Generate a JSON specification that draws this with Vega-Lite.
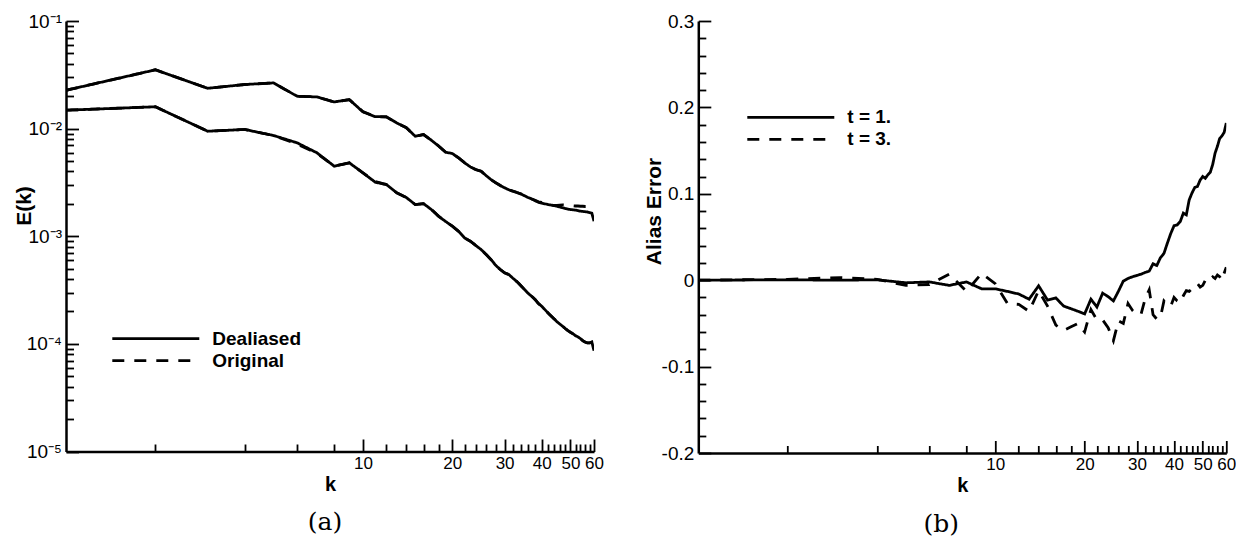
{
  "$schema": "https://vega.github.io/schema/vega-lite/v6.json",
  "background": "white",
  "padding": {"left": 13, "top": 12, "right": 0, "bottom": 0},
  "config": {
    "view": {"stroke": null},
    "font": "Liberation Sans",
    "axis": {
      "domainColor": "black", "domainWidth": 2.5, "tickColor": "black", "tickWidth": 1.8,
      "labelColor": "black", "labelFont": "Liberation Sans", "titleFont": "Liberation Sans",
      "titleFontWeight": "bold", "titleColor": "black", "grid": false,
      "labelOverlap": false, "labelFlush": false, "labelBound": false
    }
  },
  "datasets": {
    "spectra": [
      {"k":1,"c":"u","Dealiased":0.0227,"Original":0.0227},
      {"k":2,"c":"u","Dealiased":0.0352,"Original":0.0352},
      {"k":3,"c":"u","Dealiased":0.0237,"Original":0.0237},
      {"k":4,"c":"u","Dealiased":0.0257,"Original":0.0257},
      {"k":5,"c":"u","Dealiased":0.0266,"Original":0.0266},
      {"k":6,"c":"u","Dealiased":0.0200,"Original":0.0200},
      {"k":7,"c":"u","Dealiased":0.0197,"Original":0.0197},
      {"k":8,"c":"u","Dealiased":0.0177,"Original":0.0177},
      {"k":9,"c":"u","Dealiased":0.0186,"Original":0.0186},
      {"k":10,"c":"u","Dealiased":0.0143,"Original":0.0144},
      {"k":11,"c":"u","Dealiased":0.0129,"Original":0.0129},
      {"k":12,"c":"u","Dealiased":0.0129,"Original":0.0128},
      {"k":13,"c":"u","Dealiased":0.0113,"Original":0.0113},
      {"k":14,"c":"u","Dealiased":0.0102,"Original":0.0102},
      {"k":15,"c":"u","Dealiased":0.0085,"Original":0.0085},
      {"k":16,"c":"u","Dealiased":0.0088,"Original":0.0088},
      {"k":17,"c":"u","Dealiased":0.0078,"Original":0.0078},
      {"k":18,"c":"u","Dealiased":0.00686,"Original":0.0069},
      {"k":19,"c":"u","Dealiased":0.00603,"Original":0.00603},
      {"k":20,"c":"u","Dealiased":0.00587,"Original":0.00585},
      {"k":21,"c":"u","Dealiased":0.00535,"Original":0.00535},
      {"k":22,"c":"u","Dealiased":0.00481,"Original":0.00484},
      {"k":23,"c":"u","Dealiased":0.00441,"Original":0.00441},
      {"k":24,"c":"u","Dealiased":0.00417,"Original":0.00415},
      {"k":25,"c":"u","Dealiased":0.00402,"Original":0.00402},
      {"k":26,"c":"u","Dealiased":0.00366,"Original":0.00368},
      {"k":27,"c":"u","Dealiased":0.00336,"Original":0.00336},
      {"k":28,"c":"u","Dealiased":0.00313,"Original":0.00315},
      {"k":29,"c":"u","Dealiased":0.00296,"Original":0.00296},
      {"k":30,"c":"u","Dealiased":0.00282,"Original":0.00283},
      {"k":31,"c":"u","Dealiased":0.0027,"Original":0.0027},
      {"k":32,"c":"u","Dealiased":0.00262,"Original":0.00263},
      {"k":33,"c":"u","Dealiased":0.00255,"Original":0.00255},
      {"k":34,"c":"u","Dealiased":0.00247,"Original":0.00248},
      {"k":35,"c":"u","Dealiased":0.00238,"Original":0.00238},
      {"k":36,"c":"u","Dealiased":0.00229,"Original":0.00231},
      {"k":37,"c":"u","Dealiased":0.00222,"Original":0.00222},
      {"k":38,"c":"u","Dealiased":0.00214,"Original":0.00216},
      {"k":39,"c":"u","Dealiased":0.00207,"Original":0.00209},
      {"k":40,"c":"u","Dealiased":0.00203,"Original":0.00206},
      {"k":41,"c":"u","Dealiased":0.002,"Original":0.00204},
      {"k":42,"c":"u","Dealiased":0.00197,"Original":0.002},
      {"k":43,"c":"u","Dealiased":0.00195,"Original":0.00196},
      {"k":44,"c":"u","Dealiased":0.00193,"Original":0.00193},
      {"k":45,"c":"u","Dealiased":0.0019,"Original":0.00194},
      {"k":46,"c":"u","Dealiased":0.00187,"Original":0.00195},
      {"k":47,"c":"u","Dealiased":0.00184,"Original":0.00196},
      {"k":48,"c":"u","Dealiased":0.00181,"Original":0.00195},
      {"k":49,"c":"u","Dealiased":0.00179,"Original":0.00194},
      {"k":50,"c":"u","Dealiased":0.00177,"Original":0.00193},
      {"k":51,"c":"u","Dealiased":0.00176,"Original":0.00192},
      {"k":52,"c":"u","Dealiased":0.00175,"Original":0.00191},
      {"k":53,"c":"u","Dealiased":0.00173,"Original":0.00191},
      {"k":54,"c":"u","Dealiased":0.00171,"Original":0.0019},
      {"k":55,"c":"u","Dealiased":0.0017,"Original":0.0019},
      {"k":56,"c":"u","Dealiased":0.00169,"Original":0.00189},
      {"k":57,"c":"u","Dealiased":0.00168,"Original":0.00189},
      {"k":58,"c":"u","Dealiased":0.00166,"Original":0.00188},
      {"k":59,"c":"u","Dealiased":0.00164,"Original":0.00187},
      {"k":60,"c":"u","Dealiased":0.00138,"Original":0.0019},
      {"k":1,"c":"l","Dealiased":0.01483,"Original":0.01483},
      {"k":2,"c":"l","Dealiased":0.01596,"Original":0.01596},
      {"k":3,"c":"l","Dealiased":0.00946,"Original":0.00946},
      {"k":4,"c":"l","Dealiased":0.00982,"Original":0.00982},
      {"k":5,"c":"l","Dealiased":0.00863,"Original":0.00863},
      {"k":6,"c":"l","Dealiased":0.00738,"Original":0.0072},
      {"k":7,"c":"l","Dealiased":0.00596,"Original":0.0059},
      {"k":8,"c":"l","Dealiased":0.00448,"Original":0.00448},
      {"k":9,"c":"l","Dealiased":0.00481,"Original":0.00481},
      {"k":10,"c":"l","Dealiased":0.00388,"Original":0.00388},
      {"k":11,"c":"l","Dealiased":0.00318,"Original":0.00322},
      {"k":12,"c":"l","Dealiased":0.00302,"Original":0.00302},
      {"k":13,"c":"l","Dealiased":0.00253,"Original":0.00253},
      {"k":14,"c":"l","Dealiased":0.00229,"Original":0.00229},
      {"k":15,"c":"l","Dealiased":0.00197,"Original":0.00197},
      {"k":16,"c":"l","Dealiased":0.00201,"Original":0.00201},
      {"k":17,"c":"l","Dealiased":0.00177,"Original":0.00178},
      {"k":18,"c":"l","Dealiased":0.00153,"Original":0.00153},
      {"k":19,"c":"l","Dealiased":0.00137,"Original":0.00137},
      {"k":20,"c":"l","Dealiased":0.00124,"Original":0.00124},
      {"k":21,"c":"l","Dealiased":0.00111,"Original":0.00111},
      {"k":22,"c":"l","Dealiased":0.000966,"Original":0.000966},
      {"k":23,"c":"l","Dealiased":0.000899,"Original":0.000899},
      {"k":24,"c":"l","Dealiased":0.00082,"Original":0.00082},
      {"k":25,"c":"l","Dealiased":0.000752,"Original":0.000752},
      {"k":26,"c":"l","Dealiased":0.000676,"Original":0.000676},
      {"k":27,"c":"l","Dealiased":0.000607,"Original":0.000607},
      {"k":28,"c":"l","Dealiased":0.000537,"Original":0.000537},
      {"k":29,"c":"l","Dealiased":0.000491,"Original":0.000491},
      {"k":30,"c":"l","Dealiased":0.000457,"Original":0.000457},
      {"k":31,"c":"l","Dealiased":0.000441,"Original":0.000441},
      {"k":32,"c":"l","Dealiased":0.000407,"Original":0.000407},
      {"k":33,"c":"l","Dealiased":0.000379,"Original":0.000379},
      {"k":34,"c":"l","Dealiased":0.000348,"Original":0.000348},
      {"k":35,"c":"l","Dealiased":0.00032,"Original":0.00032},
      {"k":36,"c":"l","Dealiased":0.000295,"Original":0.000295},
      {"k":37,"c":"l","Dealiased":0.000277,"Original":0.000277},
      {"k":38,"c":"l","Dealiased":0.000258,"Original":0.000258},
      {"k":39,"c":"l","Dealiased":0.000237,"Original":0.000237},
      {"k":40,"c":"l","Dealiased":0.000224,"Original":0.000224},
      {"k":41,"c":"l","Dealiased":0.000208,"Original":0.000208},
      {"k":42,"c":"l","Dealiased":0.000194,"Original":0.000194},
      {"k":43,"c":"l","Dealiased":0.000182,"Original":0.000182},
      {"k":44,"c":"l","Dealiased":0.000171,"Original":0.000171},
      {"k":45,"c":"l","Dealiased":0.000161,"Original":0.000161},
      {"k":46,"c":"l","Dealiased":0.000153,"Original":0.000153},
      {"k":47,"c":"l","Dealiased":0.000146,"Original":0.000146},
      {"k":48,"c":"l","Dealiased":0.000139,"Original":0.000139},
      {"k":49,"c":"l","Dealiased":0.000133,"Original":0.000133},
      {"k":50,"c":"l","Dealiased":0.000128,"Original":0.000128},
      {"k":51,"c":"l","Dealiased":0.000124,"Original":0.000124},
      {"k":52,"c":"l","Dealiased":0.000119,"Original":0.000119},
      {"k":53,"c":"l","Dealiased":0.000116,"Original":0.000116},
      {"k":54,"c":"l","Dealiased":0.000112,"Original":0.000112},
      {"k":55,"c":"l","Dealiased":0.000107,"Original":0.000107},
      {"k":56,"c":"l","Dealiased":0.000104,"Original":0.000104},
      {"k":57,"c":"l","Dealiased":0.000102,"Original":0.000102},
      {"k":58,"c":"l","Dealiased":0.000102,"Original":0.000102},
      {"k":59,"c":"l","Dealiased":0.000104,"Original":0.000104},
      {"k":60,"c":"l","Dealiased":0.0000865,"Original":0.0000865}
    ],
    "alias": [
      {"k":1,"t1":0,"t3":0},
      {"k":2,"t1":0.0005,"t3":0.001},
      {"k":3,"t1":0,"t3":0.003},
      {"k":4,"t1":0.0005,"t3":0.001},
      {"k":5,"t1":-0.003,"t3":-0.006},
      {"k":6,"t1":-0.002,"t3":-0.005},
      {"k":7,"t1":-0.006,"t3":0.007},
      {"k":8,"t1":-0.002,"t3":-0.013},
      {"k":9,"t1":-0.01,"t3":0.008},
      {"k":10,"t1":-0.01,"t3":-0.004},
      {"k":11,"t1":-0.013,"t3":-0.027},
      {"k":12,"t1":-0.016,"t3":-0.028},
      {"k":13,"t1":-0.022,"t3":-0.036},
      {"k":14,"t1":-0.0065,"t3":-0.012},
      {"k":15,"t1":-0.023,"t3":-0.03},
      {"k":16,"t1":-0.0205,"t3":-0.052},
      {"k":17,"t1":-0.03,"t3":-0.058},
      {"k":18,"t1":-0.033,"t3":-0.054},
      {"k":19,"t1":-0.036,"t3":-0.05},
      {"k":20,"t1":-0.039,"t3":-0.06},
      {"k":21,"t1":-0.022,"t3":-0.034},
      {"k":22,"t1":-0.031,"t3":-0.046},
      {"k":23,"t1":-0.015,"t3":-0.046},
      {"k":24,"t1":-0.019,"t3":-0.055},
      {"k":25,"t1":-0.024,"t3":-0.07},
      {"k":26,"t1":-0.0127,"t3":-0.047},
      {"k":27,"t1":-0.001,"t3":-0.05},
      {"k":28,"t1":0.002,"t3":-0.027},
      {"k":29,"t1":0.004,"t3":-0.035},
      {"k":30,"t1":0.0055,"t3":-0.04},
      {"k":31,"t1":0.007,"t3":-0.039},
      {"k":32,"t1":0.009,"t3":-0.021},
      {"k":33,"t1":0.0105,"t3":-0.011},
      {"k":34,"t1":0.019,"t3":-0.04},
      {"k":35,"t1":0.017,"t3":-0.045},
      {"k":36,"t1":0.026,"t3":-0.043},
      {"k":37,"t1":0.031,"t3":-0.024},
      {"k":38,"t1":0.043,"t3":-0.028},
      {"k":39,"t1":0.054,"t3":-0.03},
      {"k":40,"t1":0.063,"t3":-0.02},
      {"k":41,"t1":0.064,"t3":-0.024},
      {"k":42,"t1":0.068,"t3":-0.026},
      {"k":43,"t1":0.0776,"t3":-0.018},
      {"k":44,"t1":0.0756,"t3":-0.012},
      {"k":45,"t1":0.093,"t3":-0.013},
      {"k":46,"t1":0.101,"t3":-0.01},
      {"k":47,"t1":0.1074,"t3":-0.006},
      {"k":48,"t1":0.1086,"t3":-0.004},
      {"k":49,"t1":0.116,"t3":-0.008},
      {"k":50,"t1":0.12,"t3":-0.006},
      {"k":51,"t1":0.118,"t3":0},
      {"k":52,"t1":0.122,"t3":-0.002},
      {"k":53,"t1":0.125,"t3":0.001},
      {"k":54,"t1":0.134,"t3":0.004},
      {"k":55,"t1":0.147,"t3":0.002},
      {"k":56,"t1":0.155,"t3":0.006},
      {"k":57,"t1":0.164,"t3":0.004},
      {"k":58,"t1":0.167,"t3":0},
      {"k":59,"t1":0.171,"t3":0.008},
      {"k":60,"t1":0.182,"t3":0.015}
    ]
  },
  "resolve": {
    "scale": {"x": "independent", "y": "independent", "strokeDash": "independent"},
    "legend": {"strokeDash": "independent"}
  },
  "bounds": "flush",
  "spacing": 104.3,
  "hconcat": [
    {
      "width": 528,
      "height": 430.5,
      "data": {"name": "spectra"},
      "transform": [{"fold": ["Dealiased", "Original"], "as": ["series", "E"]}],
      "mark": {"type": "line", "strokeWidth": 2.8, "color": "black", "clip": true},
      "title": {"text": "(a)", "orient": "bottom", "anchor": "middle", "font": "DejaVu Serif", "fontSize": 25, "fontWeight": "normal", "color": "black", "offset": 16, "dx": -5},
      "encoding": {
        "x": {
          "field": "k", "type": "quantitative",
          "scale": {"type": "log", "domain": [1, 60], "nice": false},
          "axis": {
            "title": "k", "titleFontSize": 20, "titlePadding": -2,
            "values": [2,4,6,8,10,12,14,16,18,20,22,24,26,28,30,32,34,36,38,40,42,44,46,48,50,52,54,56,58,60],
            "labelExpr": "indexof([10,20,30,40,50,60], datum.value) >= 0 ? datum.value + '' : ''",
            "labelFontSize": 17, "labelPadding": 16,
            "tickSize": {"condition": {"test": "indexof([10,20,30,40,50,60], datum.value) >= 0", "value": -12.5}, "value": -7.5}
          }
        },
        "y": {
          "field": "E", "type": "quantitative",
          "scale": {"type": "log", "domain": [0.00001, 0.1], "nice": false},
          "axis": {
            "title": "E(k)", "titleFontSize": 21, "titleX": -42, "titleY": 184.5, "titleAngle": -90, "titleBaseline": "middle", "titleAlign": "center",
            "values": [0.00001,0.00002,0.00003,0.00004,0.00005,0.00006,0.00007,0.00008,0.00009,0.0001,0.0002,0.0003,0.0004,0.0005,0.0006,0.0007,0.0008,0.0009,0.001,0.002,0.003,0.004,0.005,0.006,0.007,0.008,0.009,0.01,0.02,0.03,0.04,0.05,0.06,0.07,0.08,0.09,0.1],
            "labelExpr": "abs(log(datum.value)/LN10 - round(log(datum.value)/LN10)) < 0.000001 ? ['10⁻⁵','10⁻⁴','10⁻³','10⁻²','10⁻¹'][round(log(datum.value)/LN10)+5] : ''",
            "labelFontSize": 19, "labelPadding": 17,
            "tickSize": {"condition": {"test": "abs(log(datum.value)/LN10 - round(log(datum.value)/LN10)) < 0.000001", "value": -12.5}, "value": -7.5}
          }
        },
        "strokeDash": {
          "field": "series", "type": "nominal",
          "scale": {"domain": ["Dealiased", "Original"], "range": [[1, 0], [12, 10]]},
          "legend": {
            "orient": "none", "legendX": 44.8, "legendY": 306.7, "title": null,
            "symbolType": "stroke", "symbolSize": 7569, "symbolStrokeWidth": 2.8, "symbolStrokeColor": "black",
            "clipHeight": 21.7, "rowPadding": 0, "padding": 0,
            "labelFont": "Liberation Sans", "labelFontSize": 19, "labelFontWeight": "bold", "labelColor": "black", "labelOffset": 11.5
          }
        },
        "detail": {"field": "c", "type": "nominal"},
        "order": {"field": "k", "type": "quantitative"}
      }
    },
    {
      "width": 528,
      "height": 432,
      "data": {"name": "alias"},
      "transform": [{"fold": ["t1", "t3"], "as": ["t", "err"]}],
      "mark": {"type": "line", "strokeWidth": 2.8, "color": "black", "clip": true},
      "title": {"text": "(b)", "orient": "bottom", "anchor": "middle", "font": "DejaVu Serif", "fontSize": 25, "fontWeight": "normal", "color": "black", "offset": 16, "dx": -21},
      "encoding": {
        "x": {
          "field": "k", "type": "quantitative",
          "scale": {"type": "log", "domain": [1, 60], "nice": false},
          "axis": {
            "title": "k", "titleFontSize": 20, "titlePadding": -2,
            "values": [2,4,6,8,10,12,14,16,18,20,22,24,26,28,30,32,34,36,38,40,42,44,46,48,50,52,54,56,58,60],
            "labelExpr": "indexof([10,20,30,40,50,60], datum.value) >= 0 ? datum.value + '' : ''",
            "labelFontSize": 17, "labelPadding": 16,
            "tickSize": {"condition": {"test": "indexof([10,20,30,40,50,60], datum.value) >= 0", "value": -12.5}, "value": -7.5}
          }
        },
        "y": {
          "field": "err", "type": "quantitative",
          "scale": {"domain": [-0.2, 0.3], "nice": false, "zero": false},
          "axis": {
            "title": "Alias Error", "titleFontSize": 21, "titleX": -44, "titleY": 190, "titleAngle": -90, "titleBaseline": "middle", "titleAlign": "center",
            "values": [-0.2,-0.18,-0.16,-0.14,-0.12,-0.1,-0.08,-0.06,-0.04,-0.02,0,0.02,0.04,0.06,0.08,0.1,0.12,0.14,0.16,0.18,0.2,0.22,0.24,0.26,0.28,0.3],
            "labelExpr": "abs(datum.value*10 - round(datum.value*10)) < 0.000001 ? (round(datum.value*10) == 0 ? '0' : (datum.value < 0 ? '-' : '') + '0.' + abs(round(datum.value*10))) : ''",
            "labelFontSize": 19, "labelPadding": 17,
            "tickSize": {"condition": {"test": "abs(datum.value*10 - round(datum.value*10)) < 0.000001", "value": -12.5}, "value": -7.5}
          }
        },
        "strokeDash": {
          "field": "t", "type": "nominal",
          "scale": {"domain": ["t1", "t3"], "range": [[1, 0], [12, 10]]},
          "legend": {
            "orient": "none", "legendX": 47.5, "legendY": 85.5, "title": null,
            "labelExpr": "datum.label == 't1' ? 't = 1.' : 't = 3.'",
            "symbolType": "stroke", "symbolSize": 7569, "symbolStrokeWidth": 2.8, "symbolStrokeColor": "black",
            "clipHeight": 21.7, "rowPadding": 0, "padding": 0,
            "labelFont": "Liberation Sans", "labelFontSize": 19, "labelFontWeight": "bold", "labelColor": "black", "labelOffset": 11.5
          }
        },
        "order": {"field": "k", "type": "quantitative"}
      }
    }
  ]
}
